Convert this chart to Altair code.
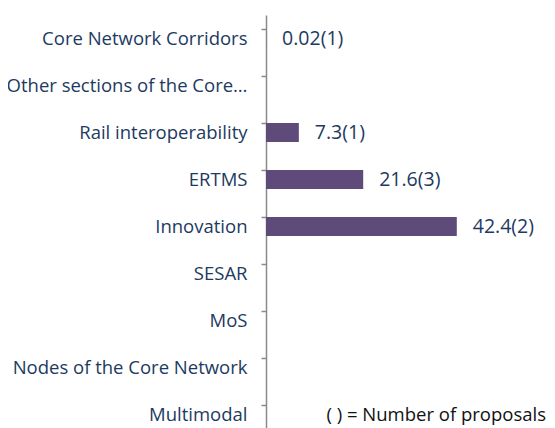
import altair as alt
import pandas as pd

categories = ["Core Network Corridors", "Other sections of the Core Network", "Rail interoperability",
              "ERTMS", "Innovation", "SESAR", "MoS", "Nodes of the Core Network", "Multimodal"]
values = [0.02, None, 7.3, 21.6, 42.4, None, None, None, None]
labels = ["0.02(1)", "", "7.3(1)", "21.6(3)", "42.4(2)", "", "", "", ""]
note = "( ) = Number of proposals"

df = pd.DataFrame({"cat": categories, "val": values, "lab": labels})
note_df = pd.DataFrame({"cat": ["Multimodal"], "txt": [note]})

FONT = "Open Sans"
NAVY = "#1d3a5f"

y = alt.Y("cat:N", sort=categories, title=None,
          scale=alt.Scale(paddingInner=0.6, paddingOuter=0.3),
          axis=alt.Axis(bandPosition=0, domainColor="#8a8a8a", tickColor="#8a8a8a",
                        tickSize=5, domainWidth=1.5, tickWidth=1.5,
                        labelFont=FONT, labelFontSize=18.5, labelColor=NAVY,
                        labelPadding=14, labelLimit=244, grid=False))

x = alt.X("val:Q", scale=alt.Scale(domain=[0, 60]), axis=None)

bars = alt.Chart(df).mark_bar(color="#5f4b7a", size=19).encode(x=x, y=y)
text = alt.Chart(df).mark_text(align="left", dx=16, font=FONT, fontSize=19.5, color=NAVY).encode(
    x=alt.X("val:Q", scale=alt.Scale(domain=[0, 60])), y=alt.Y("cat:N", sort=categories), text="lab:N")
foot = alt.Chart(note_df).mark_text(align="right", font=FONT, fontSize=18.5, color="#111111").encode(
    x=alt.value(280), y=alt.Y("cat:N", sort=categories), text="txt:N")

chart = alt.layer(bars, text, foot).properties(
    width=270, height=423,
    autosize=alt.AutoSizeParams(type="none"),
    padding={"top": 7, "left": 258, "right": 11, "bottom": 0},
).configure_view(stroke=None)

chart.save("out.html", embed_options={"renderer": "svg", "actions": False})
